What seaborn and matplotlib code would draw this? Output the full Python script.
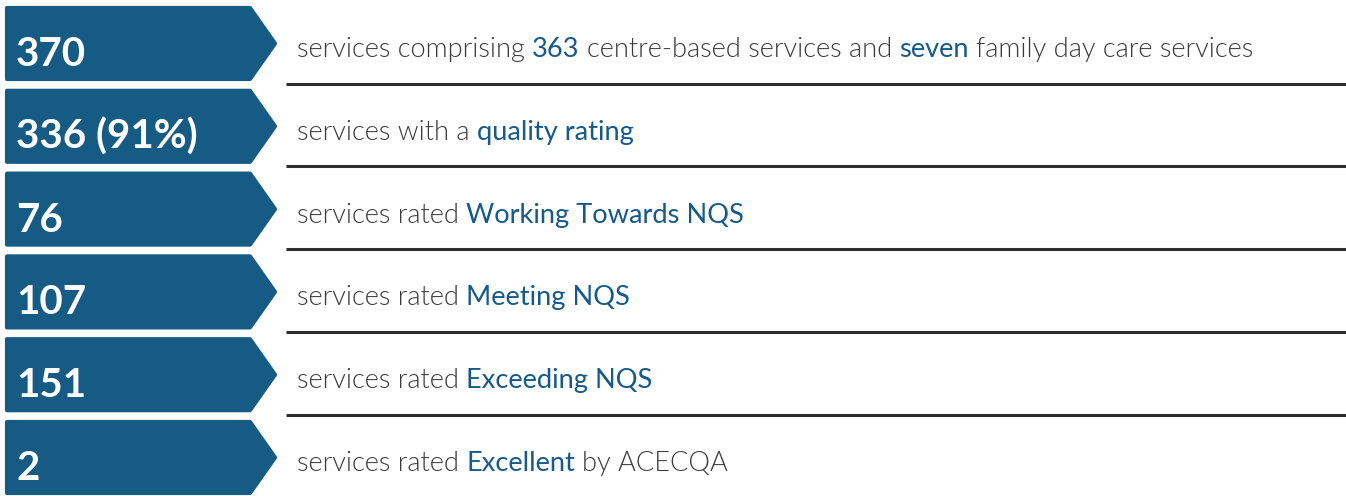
import matplotlib
matplotlib.use("Agg")
import matplotlib.pyplot as plt
import seaborn as sns
from matplotlib.patches import Polygon

# counts shown in the blue arrow boxes
counts = ["370", "336 (91%)", "76", "107", "151", "2"]

# description text per row: (text, highlighted)
row1 = [("services comprising", False), ("363", True), ("centre-based services and", False),
        ("seven", True), ("family day care services", False)]
row2 = [("services with a", False), ("quality rating", True)]
row3 = [("services rated", False), ("Working Towards NQS", True)]
row4 = [("services rated", False), ("Meeting NQS", True)]
row5 = [("services rated", False), ("Exceeding NQS", True)]
row6 = [("services rated", False), ("Excellent", True), ("by ACECQA", False)]
descriptions = [row1, row2, row3, row4, row5, row6]

BOX = "#165b84"
HIGHLIGHT = "#155a8a"
GREY = "#3b3b3b"
FONT = "Lato"

sns.set_theme(style="white")
plt.rcParams["font.family"] = [FONT, "DejaVu Sans"]

W, H = 1346, 496
fig = plt.figure(figsize=(W / 100, H / 100), dpi=100)
ax = fig.add_axes([0, 0, 1, 1])
ax.set_xlim(0, W)
ax.set_ylim(H, 0)
ax.axis("off")

renderer = fig.canvas.get_renderer()


def text_width(s, **kw):
    t = ax.text(0, 0, s, **kw)
    w = t.get_window_extent(renderer).width
    t.remove()
    return w


step = 82.8
for i, (num, parts) in enumerate(zip(counts, descriptions)):
    top = 6 + i * step
    bot = top + 75
    mid = (top + bot) / 2
    # arrow box (rounded corners via a thick round-joined edge)
    r = 2
    pts = [(5 + r, top + r), (250, top + r), (277 - r, mid), (250, bot - r), (5 + r, bot - r)]
    ax.add_patch(Polygon(pts, closed=True, facecolor=BOX, edgecolor=BOX,
                         linewidth=3, joinstyle="round"))
    ax.text(16, top + 60, num, color="white", fontsize=29, fontweight="bold",
            va="baseline", ha="left")

    # description made of coloured pieces
    x = 297
    base = top + 51
    for j, (s, hl) in enumerate(parts):
        kw = dict(fontsize=19.6, va="baseline", ha="left",
                  color=HIGHLIGHT if hl else GREY,
                  fontweight=400 if hl else 300)
        ax.text(x, base, s, **kw)
        sp = text_width("a a", **kw) - text_width("aa", **kw)
        x += text_width(s, **kw) + sp

    if i < len(counts) - 1:
        ax.plot([286, W], [bot + 2.5, bot + 2.5], color="#2e2e2e", lw=2.2,
                solid_capstyle="butt")

fig.savefig("out.png", dpi=100)
